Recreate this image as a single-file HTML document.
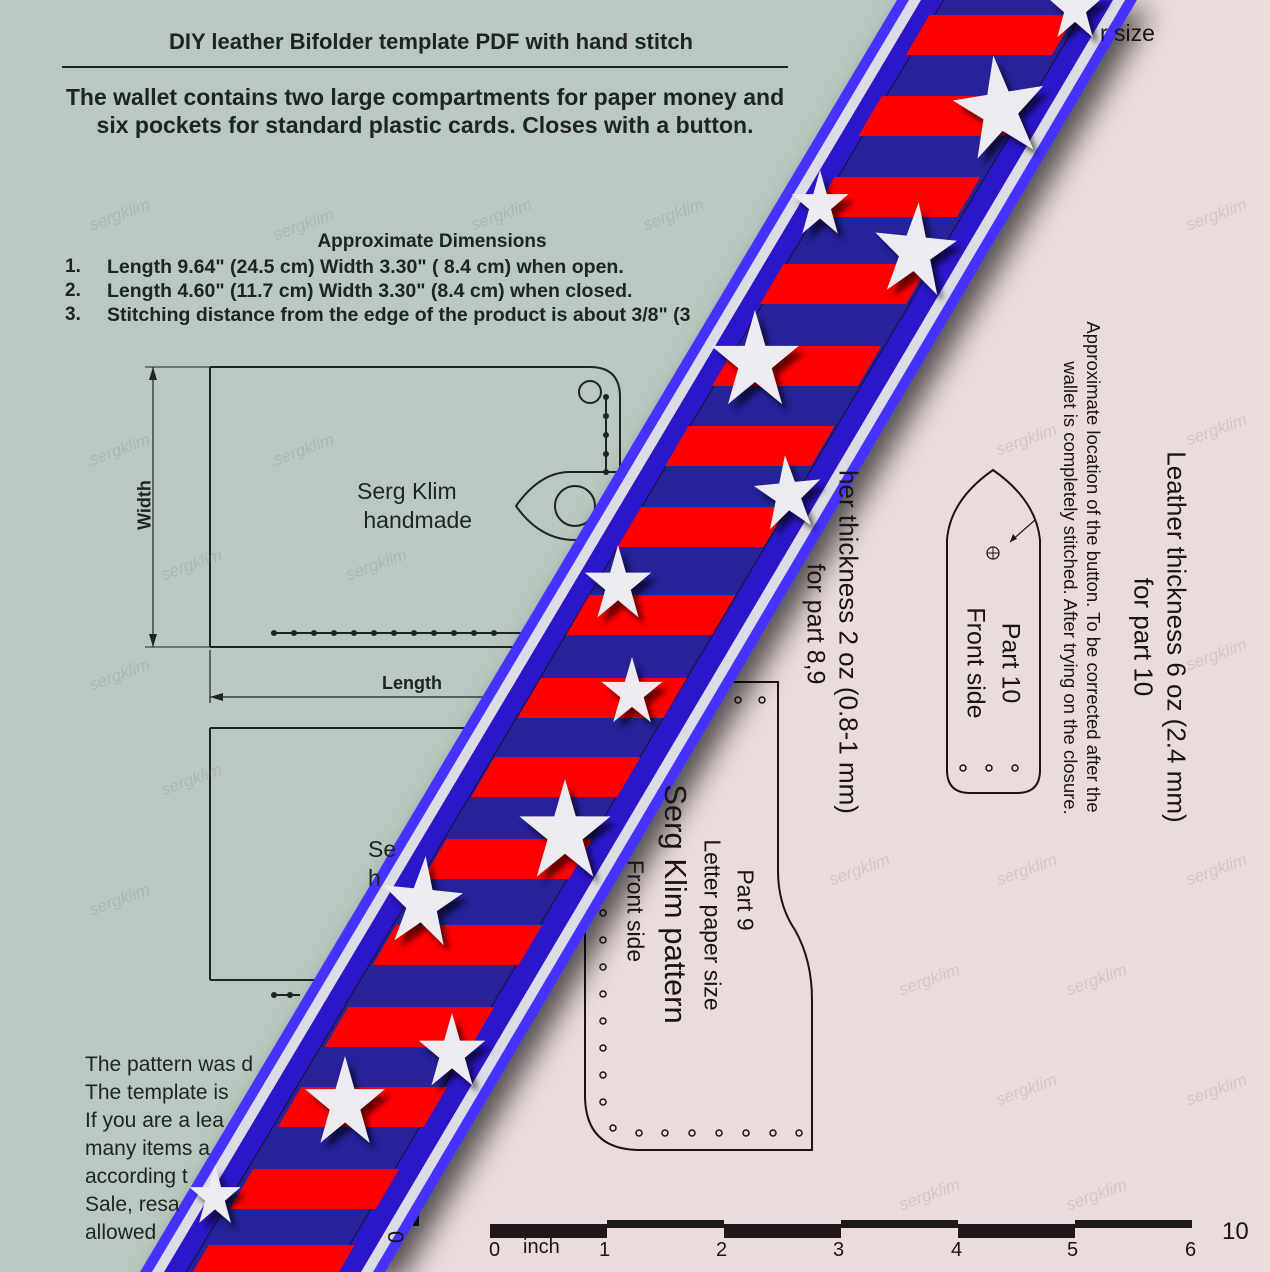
<!DOCTYPE html>
<html><head><meta charset="utf-8"><style>
html,body{margin:0;padding:0}
body{width:1270px;height:1272px;position:relative;overflow:hidden;background:#b9c8c0;font-family:"Liberation Sans",sans-serif;color:#1e2420}
.a{position:absolute;white-space:nowrap}
.b{font-weight:bold}
.r{position:absolute;white-space:nowrap;transform:translate(-50%,-50%) rotate(90deg);color:#1a1414}
.wm{position:absolute;color:rgba(120,120,120,0.22);font-size:17px;transform:rotate(-20deg);font-style:italic}
</style></head><body>
<svg width="1270" height="1272" style="position:absolute;left:0;top:0">
<defs>
<filter id="sh" x="-50%" y="-50%" width="200%" height="200%"><feDropShadow dx="14" dy="10" stdDeviation="14" flood-color="#000" flood-opacity="0.65"/></filter>
<filter id="ss" x="-50%" y="-50%" width="200%" height="200%"><feDropShadow dx="6" dy="7" stdDeviation="3" flood-color="#000" flood-opacity="0.6"/></filter>
<clipPath id="inner"><polygon points="944,-10 1090,-10 333,1282 187,1282"/></clipPath>
<polygon id="st" points="0,-1 0.225,-0.309 0.951,-0.309 0.363,0.118 0.588,0.809 0,0.382 -0.588,0.809 -0.363,0.118 -0.951,-0.309 -0.225,-0.309"/>
</defs>
<polygon points="1000,0 1270,0 1270,1272 250,1272" fill="#ebdcdc"/>
<g stroke="#1e2420" fill="none" stroke-width="2">
<line x1="62" y1="67" x2="788" y2="67"/>
<path d="M210,367 H590 Q620,367 620,397 V640"/>
<line x1="210" y1="367" x2="210" y2="647"/><line x1="210" y1="647" x2="620" y2="647"/>
<circle cx="590" cy="392" r="11"/>
<line x1="606" y1="395" x2="606" y2="472"/>
<path d="M620,472 H570 Q540,472 516,506 Q540,540 575,540 H620"/>
<circle cx="575" cy="506" r="20"/>
<line x1="272" y1="633" x2="530" y2="633"/>
<line x1="153" y1="367" x2="153" y2="647" stroke-width="1.2"/>
<line x1="145" y1="367" x2="210" y2="367" stroke-width="1"/>
<line x1="145" y1="647" x2="210" y2="647" stroke-width="1"/>
<line x1="210" y1="650" x2="210" y2="703" stroke-width="1.2"/>
<line x1="210" y1="697" x2="520" y2="697" stroke-width="1.2"/>
<polyline points="210,728 560,728"/><line x1="210" y1="728" x2="210" y2="980"/><line x1="210" y1="980" x2="420" y2="980"/>
<line x1="272" y1="995" x2="300" y2="995"/>
</g>
<g fill="#1e2420">
<circle cx="606" cy="397" r="3"/><circle cx="606" cy="416" r="3"/><circle cx="606" cy="435" r="3"/><circle cx="606" cy="454" r="3"/><circle cx="606" cy="472" r="3"/>
<circle cx="274" cy="633" r="3"/><circle cx="294" cy="633" r="3"/><circle cx="314" cy="633" r="3"/><circle cx="334" cy="633" r="3"/><circle cx="354" cy="633" r="3"/><circle cx="374" cy="633" r="3"/><circle cx="394" cy="633" r="3"/><circle cx="414" cy="633" r="3"/><circle cx="434" cy="633" r="3"/><circle cx="454" cy="633" r="3"/><circle cx="474" cy="633" r="3"/><circle cx="494" cy="633" r="3"/>
<circle cx="274" cy="995" r="3"/><circle cx="290" cy="995" r="3"/>
<polygon points="153,367 149,380 157,380"/><polygon points="153,647 149,634 157,634"/><polygon points="210,697 223,693 223,701"/>
<rect x="413" y="1180" width="6" height="46"/>
</g>
<g stroke="#1a1414" fill="none" stroke-width="2">
<path d="M947,540 Q950,500 993,470 Q1036,500 1040,540 V770 Q1040,793 1017,793 H970 Q947,793 947,770 Z"/>
<circle cx="993" cy="553" r="6" stroke-width="1.2"/><line x1="987" y1="553" x2="999" y2="553" stroke-width="1"/><line x1="993" y1="547" x2="993" y2="559" stroke-width="1"/>
<line x1="1035" y1="520" x2="1010" y2="542" stroke-width="1.2"/>
<path d="M700,682 H778 V870 Q778,905 795,930 Q812,960 812,1000 V1150 H640 Q585,1150 585,1095 V880"/>
<line x1="490" y1="1226" x2="1192" y2="1226" stroke-width="1"/>
</g>
<polygon points="1010,542 1013,534 1017,539" fill="#1a1414"/>
<g fill="none" stroke="#1a1414" stroke-width="1.5">
<circle cx="963" cy="768" r="3"/><circle cx="989" cy="768" r="3"/><circle cx="1015" cy="768" r="3"/>
<circle cx="738" cy="700" r="3"/><circle cx="762" cy="700" r="3"/>
<circle cx="603" cy="886" r="3"/><circle cx="603" cy="913" r="3"/><circle cx="603" cy="940" r="3"/><circle cx="603" cy="967" r="3"/><circle cx="603" cy="994" r="3"/><circle cx="603" cy="1021" r="3"/><circle cx="603" cy="1048" r="3"/><circle cx="603" cy="1075" r="3"/><circle cx="603" cy="1102" r="3"/>
<circle cx="613" cy="1128" r="3"/><circle cx="639" cy="1133" r="3"/><circle cx="665" cy="1133" r="3"/><circle cx="692" cy="1133" r="3"/><circle cx="719" cy="1133" r="3"/><circle cx="746" cy="1133" r="3"/><circle cx="773" cy="1133" r="3"/><circle cx="799" cy="1133" r="3"/>
</g>
<g fill="#201818">
<rect x="490" y="1224" width="117" height="14"/><rect x="607" y="1220" width="117" height="8"/><rect x="724" y="1224" width="117" height="14"/><rect x="841" y="1220" width="117" height="8"/><rect x="958" y="1224" width="117" height="14"/><rect x="1075" y="1220" width="117" height="8"/>
</g>
<g filter="url(#sh)">
<polygon points="897,0 1137,0 385,1272 140,1272" fill="#4433ff"/>
</g>
<polygon points="909,0 1125,0 373,1272 152,1272" fill="#dcdce4"/>
<polygon points="921,0 1113,0 361,1272 164,1272" fill="#2b17c9"/>
<polygon points="943,0 1091,0 334,1272 186,1272" fill="#111"/>
<polygon points="944,0 1090,0 333,1272 187,1272" fill="#25229a"/>
<g clip-path="url(#inner)" fill="#ff0000">
<rect x="0" y="15" width="1270" height="40"/><rect x="0" y="96" width="1270" height="40"/><rect x="0" y="177" width="1270" height="40"/><rect x="0" y="264" width="1270" height="40"/><rect x="0" y="346" width="1270" height="40"/><rect x="0" y="426" width="1270" height="40"/><rect x="0" y="507" width="1270" height="40"/><rect x="0" y="595" width="1270" height="40"/><rect x="0" y="678" width="1270" height="40"/><rect x="0" y="757" width="1270" height="40"/><rect x="0" y="839" width="1270" height="40"/><rect x="0" y="925" width="1270" height="40"/><rect x="0" y="1007" width="1270" height="40"/><rect x="0" y="1087" width="1270" height="40"/><rect x="0" y="1169" width="1270" height="40"/><rect x="0" y="1245" width="1270" height="40"/>
</g>
<g fill="#ebebf0" filter="url(#ss)">
<use href="#st" transform="translate(1075,8) scale(30,36)"/>
<use href="#st" transform="translate(1000,110) scale(48,55) rotate(-8)"/>
<use href="#st" transform="translate(820,205) scale(30,35)"/>
<use href="#st" transform="translate(915,252) scale(43,50) rotate(5)"/>
<use href="#st" transform="translate(755,362) scale(46,52)"/>
<use href="#st" transform="translate(788,495) scale(35,40) rotate(-5)"/>
<use href="#st" transform="translate(618,585) scale(35,40)"/>
<use href="#st" transform="translate(632,693) scale(32,36)"/>
<use href="#st" transform="translate(565,833) scale(48,54)"/>
<use href="#st" transform="translate(422,904) scale(42,48) rotate(5)"/>
<use href="#st" transform="translate(452,1053) scale(35,40)"/>
<use href="#st" transform="translate(345,1104) scale(42,48)"/>
<use href="#st" transform="translate(215,1197) scale(27,32)"/>
</g>
</svg>

<div class="a b" style="left:0;width:862px;text-align:center;top:29px;font-size:22px">DIY leather Bifolder template PDF with hand stitch</div>
<div class="a b" style="left:0;width:850px;text-align:center;top:83px;font-size:23px;line-height:28px">The wallet contains two large compartments for paper money and<br>six pockets for standard plastic cards. Closes with a button.</div>
<div class="a b" style="left:0;width:864px;text-align:center;top:231px;font-size:19px">Approximate Dimensions</div>
<div class="a b" style="left:65px;top:255px;font-size:19px;line-height:24px">1.<br>2.<br>3.</div>
<div class="a b" style="left:107px;top:255px;font-size:19.5px;line-height:24px">Length 9.64" (24.5 cm) Width 3.30" ( 8.4 cm) when open.<br>Length 4.60" (11.7 cm) Width 3.30" (8.4 cm) when closed.<br>Stitching distance from the edge of the product is about 3/8" (3</div>
<div class="r b" style="left:145px;top:505px;font-size:18px;transform:translate(-50%,-50%) rotate(-90deg);color:#1e2420">Width</div>
<div class="a" style="left:357px;top:477px;font-size:23px;line-height:29px">Serg Klim<br>&nbsp;handmade</div>
<div class="a b" style="left:382px;top:673px;font-size:18px">Length</div>
<div class="a" style="left:368px;top:835px;font-size:23px;line-height:29px">Se<br>h</div>
<div class="a" style="left:85px;top:1051px;font-size:21px;line-height:28px">The pattern was d<br>The template is<br>If you are a lea<br>many items a<br>according t<br>Sale, resa<br>allowed</div>
<div class="r" style="left:395px;top:1237px;font-size:22px">0</div>

<div class="a" style="left:1100px;top:20px;font-size:23px;color:#1a1414">r size</div>
<div class="r" style="left:1176px;top:637px;font-size:26px">Leather thickness 6 oz (2.4 mm)</div>
<div class="r" style="left:1143px;top:637px;font-size:26px">for part 10</div>
<div class="r" style="left:1093px;top:567px;font-size:18.5px">Approximate location of the button. To be corrected after the</div>
<div class="r" style="left:1070px;top:588px;font-size:18.5px">wallet is completely stitched. After trying on the closure.</div>
<div class="r" style="left:1010px;top:663px;font-size:25px">Part 10</div>
<div class="r" style="left:975px;top:663px;font-size:25px">Front side</div>
<div class="r" style="left:848px;top:642px;font-size:26px">her thickness 2 oz (0.8-1 mm)</div>
<div class="r" style="left:815px;top:624px;font-size:25px">for part 8,9</div>
<div class="r" style="left:745px;top:900px;font-size:23px">Part 9</div>
<div class="r" style="left:712px;top:925px;font-size:23px">Letter paper size</div>
<div class="r" style="left:675px;top:904px;font-size:31px">Serg Klim pattern</div>
<div class="r" style="left:635px;top:911px;font-size:23px">Front side</div>
<div class="a" style="left:489px;top:1239px;font-size:20px;color:#1a1414">0</div>
<div class="a" style="left:523px;top:1236px;font-size:20px;color:#1a1414">inch</div>
<div class="a" style="left:599px;top:1239px;font-size:20px;color:#1a1414">1</div>
<div class="a" style="left:716px;top:1239px;font-size:20px;color:#1a1414">2</div>
<div class="a" style="left:833px;top:1239px;font-size:20px;color:#1a1414">3</div>
<div class="a" style="left:951px;top:1239px;font-size:20px;color:#1a1414">4</div>
<div class="a" style="left:1067px;top:1239px;font-size:20px;color:#1a1414">5</div>
<div class="a" style="left:1185px;top:1239px;font-size:20px;color:#1a1414">6</div>
<div class="a" style="left:1222px;top:1218px;font-size:24px;color:#1a1414">10</div>

<div class="wm" style="left:88px;top:205px">sergklim</div>
<div class="wm" style="left:272px;top:215px">sergklim</div>
<div class="wm" style="left:470px;top:205px">sergklim</div>
<div class="wm" style="left:642px;top:205px">sergklim</div>
<div class="wm" style="left:88px;top:440px">sergklim</div>
<div class="wm" style="left:272px;top:440px">sergklim</div>
<div class="wm" style="left:88px;top:665px">sergklim</div>
<div class="wm" style="left:160px;top:555px">sergklim</div>
<div class="wm" style="left:345px;top:555px">sergklim</div>
<div class="wm" style="left:88px;top:890px">sergklim</div>
<div class="wm" style="left:160px;top:770px">sergklim</div>
<div class="wm" style="left:1185px;top:205px">sergklim</div>
<div class="wm" style="left:1185px;top:420px">sergklim</div>
<div class="wm" style="left:1185px;top:645px">sergklim</div>
<div class="wm" style="left:1185px;top:860px">sergklim</div>
<div class="wm" style="left:1185px;top:1080px">sergklim</div>
<div class="wm" style="left:995px;top:430px">sergklim</div>
<div class="wm" style="left:995px;top:860px">sergklim</div>
<div class="wm" style="left:995px;top:1080px">sergklim</div>
<div class="wm" style="left:898px;top:1185px">sergklim</div>
<div class="wm" style="left:1065px;top:1185px">sergklim</div>
<div class="wm" style="left:828px;top:860px">sergklim</div>
<div class="wm" style="left:898px;top:970px">sergklim</div>
<div class="wm" style="left:1065px;top:970px">sergklim</div>
</body></html>
